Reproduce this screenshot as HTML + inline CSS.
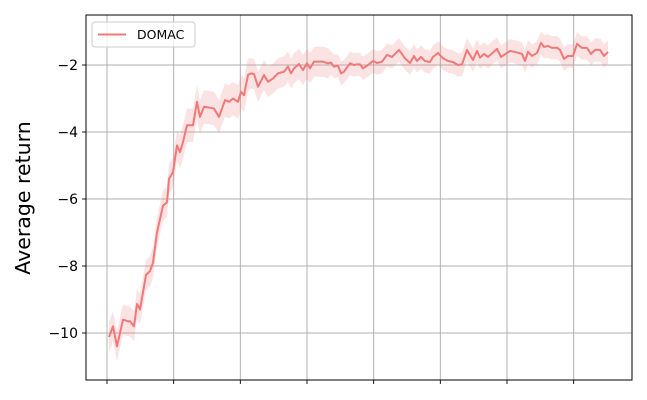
<!DOCTYPE html>
<html><head><meta charset="utf-8"><style>
body{margin:0;background:#fff;}
svg{display:block;font-family:"DejaVu Sans","Liberation Sans",sans-serif;}
</style></head><body>
<svg id="chart" width="647" height="400"></svg>
<script>
const steps=[0.6,1.8,3,4.8,6.3,6.9,8.1,9,9.9,11.7,12.9,13.8,15,16.8,18,18.6,19.8,21,21.9,22.8,24,25.8,27,27.9,29.1,30.6,32.1,33.6,35.4,36.6,37.8,39.3,40.2,41.1,42.3,43.2,44.1,45.3,47.1,48.3,49.8,51.3,53.1,54.3,55.2,56.1,57.6,58.8,60,60.9,62.1,64.8,66.3,67.2,68.1,69.3,70.2,71.1,72.9,74.1,
75,75.9,76.8,78.3,79.8,81,82.5,84,85.5,87.6,89.4,90.9,92.1,93,94.2,95.4,96.9,97.8,99.3,100.8,102.3,103.8,105.3,106.5,108,109.8,111,111.9,113.1,114.3,117,118.2,120.9,122.4,124.5,125.4,126.3,127.5,129,130.2,131.1,132.3,133.5,135,135.9,137.1,138.3,139.8,141,142.5,144,145.2,146.4,147.9,149.1,150.3];
const values=[-10.12,-9.8,-10.4,-9.6,-9.65,-9.65,-9.8,-9.13,-9.3,-8.27,-8.15,-7.9,-7.0,-6.2,-6.1,-5.4,-5.2,-4.4,-4.6,-4.3,-3.8,-3.8,-3.1,-3.55,-3.25,-3.27,-3.3,-3.55,-3.05,-3.1,-3.0,-3.1,-2.8,-2.9,-2.3,-2.25,-2.27,-2.65,-2.3,-2.5,-2.4,-2.25,-2.2,-2.05,-2.25,-2.1,-1.97,-2.15,-1.95,-2.1,-1.9,-1.9,-1.95,-1.93,-2.05,-2.02,-2.25,-2.2,-1.95,-2.0,
-1.98,-1.98,-2.1,-2.0,-1.88,-1.94,-1.9,-1.7,-1.76,-1.55,-1.8,-1.94,-1.73,-1.88,-1.76,-1.88,-1.91,-1.76,-1.64,-1.8,-1.88,-1.91,-2.0,-1.98,-1.55,-1.85,-1.58,-1.78,-1.67,-1.76,-1.52,-1.76,-1.58,-1.61,-1.67,-1.88,-1.61,-1.73,-1.64,-1.34,-1.46,-1.43,-1.49,-1.48,-1.55,-1.82,-1.73,-1.73,-1.37,-1.49,-1.49,-1.67,-1.55,-1.55,-1.73,-1.61];
const stds=[0.45,0.5,0.45,0.35,0.35];
const yTicks=[-10,-8,-6,-4,-2];
const xTicks=[0,20,40,60,80,100,120,140];
const legendLabel="DOMAC";

const NS="http://www.w3.org/2000/svg";
const svg=document.getElementById('chart');
const L=86,R=632,T=15,B=380;
const xs=s=>107+s*(500/150);
const ys=v=>65+(-2-v)*33.5;
function mk(tag,attrs,parent){const e=document.createElementNS(NS,tag);for(const k in attrs)e.setAttribute(k,attrs[k]);(parent||svg).appendChild(e);return e;}
function sd(i){const f=i/values.length;if(f<0.15)return stds[0];if(f<0.3)return stds[1];if(f<0.45)return stds[2];return f<0.75?stds[3]:stds[4];}

xTicks.forEach(t=>{const g=mk('line',{x1:xs(t),x2:xs(t),y1:T,y2:B,stroke:'#b0b0b0','stroke-width':1});

const tk=mk('line',{x1:xs(t),x2:xs(t),y1:B,y2:B+4,stroke:'#000','stroke-width':0.9});
});
yTicks.forEach(t=>{const g=mk('line',{x1:L,x2:R,y1:ys(t),y2:ys(t),stroke:'#b0b0b0','stroke-width':1});

const tk=mk('line',{x1:L-4,x2:L,y1:ys(t),y2:ys(t),stroke:'#000','stroke-width':0.9});

const tx=mk('text',{x:L-8,y:ys(t)+5,'text-anchor':'end','font-size':14,fill:'#000'});
tx.textContent='\u2212'+Math.abs(t);
});

let up='';
values.forEach((v,i)=>{up+=(i?'L':'M')+xs(steps[i])+','+ys(v+sd(i));});
for(let i=values.length-1;i>=0;i--){up+='L'+xs(steps[i])+','+ys(values[i]-sd(i));}
const band=mk('path',{d:up+'Z',fill:'#f08080','fill-opacity':0.22,stroke:'none'});

let d='';values.forEach((v,i)=>{d+=(i?'L':'M')+xs(steps[i])+','+ys(v);});
const line=mk('path',{d:d,fill:'none',stroke:'#f07878','stroke-width':2,'stroke-linejoin':'round'});


const fr=mk('rect',{x:L,y:T,width:R-L,height:B-T,fill:'none',stroke:'#000','stroke-width':1});


const yl=mk('text',{x:0,y:0,transform:'translate(30,198) rotate(-90)','text-anchor':'middle','font-size':20.5,fill:'#000'});
yl.textContent='Average return';


const lg=mk('g',{});

mk('rect',{x:92,y:22,width:103,height:25,rx:3,fill:'#fff','fill-opacity':0.8,stroke:'#ccc'},lg);
const ll=mk('line',{x1:98,x2:126,y1:34.5,y2:34.5,stroke:'#f07878','stroke-width':2},lg);

const lt=mk('text',{x:137,y:39,'font-size':12.5,fill:'#000'},lg);
lt.textContent=legendLabel;

</script>
</body></html>
